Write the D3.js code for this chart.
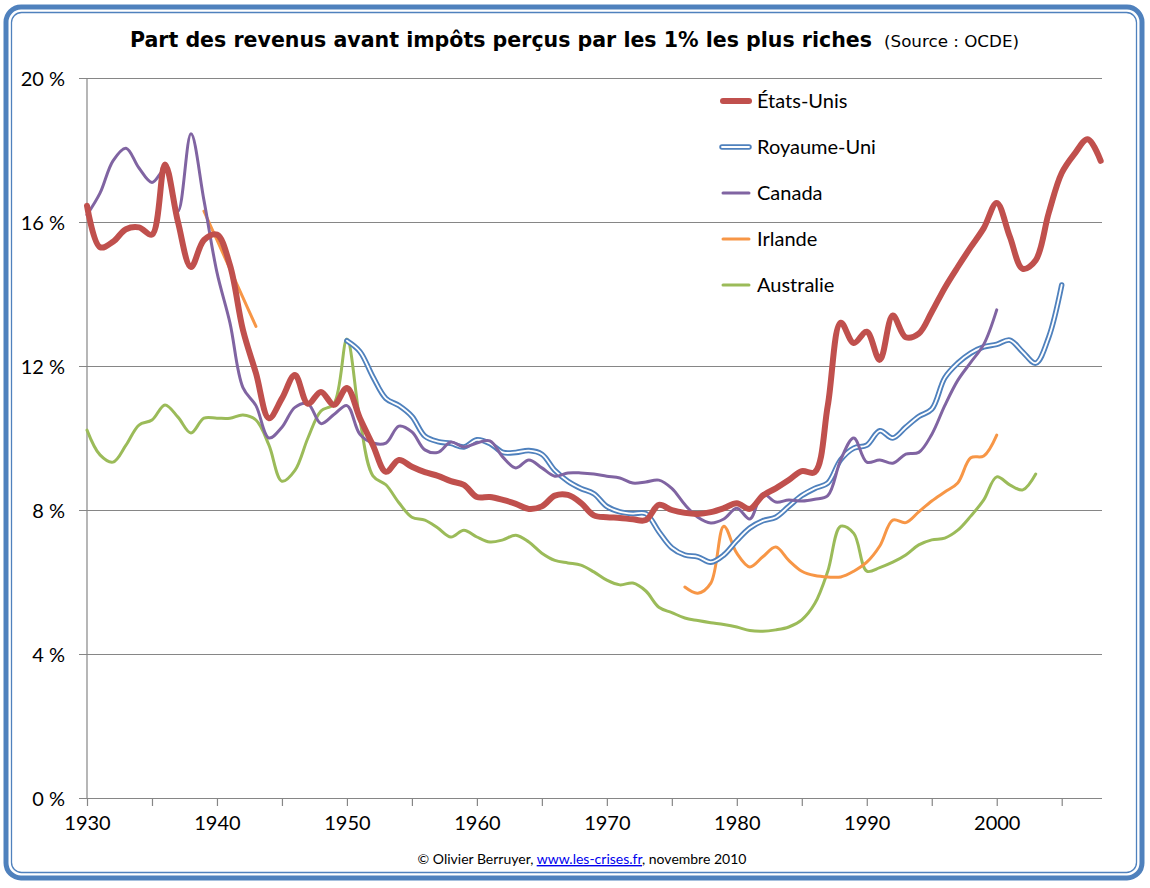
<!DOCTYPE html>
<html><head><meta charset="utf-8">
<script src="https://cdn.jsdelivr.net/npm/d3@7"></script>
<style>
html,body{margin:0;padding:0;background:#fff;}
svg{display:block;}
</style></head>
<body>
<svg id="chart" width="1150" height="888"></svg>
<script>
// ---------------- DATA ----------------
const yTicks = [0, 4, 8, 12, 16, 20];
const xLabelYears = [1930, 1940, 1950, 1960, 1970, 1980, 1990, 2000];
const xTickYears = d3.range(1930, 2006, 5);

const usYears = d3.range(1930, 2009);
const usValues = [16.45, 15.3, 15.45, 15.8, 15.85, 15.65, 17.6, 16.0, 14.75, 15.5,
  15.65, 14.8, 13.0, 11.8, 10.55, 11.1, 11.75, 10.95, 11.28, 10.92,
  11.39, 10.55, 9.8, 9.06, 9.39, 9.2, 9.05, 8.95, 8.8, 8.7,
  8.36, 8.36, 8.28, 8.17, 8.03, 8.1, 8.4, 8.42, 8.2, 7.85,
  7.8, 7.78, 7.74, 7.72, 8.14, 8.0, 7.92, 7.89, 7.94, 8.05,
  8.19, 8.03, 8.4, 8.6, 8.83, 9.08, 9.05, 10.9, 13.2, 12.64,
  12.95, 12.17, 13.4, 12.8, 12.9, 13.5, 14.17, 14.75, 15.3, 15.83,
  16.53, 15.6, 14.7, 14.94, 16.25, 17.36, 17.9, 18.3, 17.7];

const ukYears = d3.range(1950, 2006);
const ukValues = [12.7, 12.4, 11.7, 11.1, 10.9, 10.6, 10.05, 9.9, 9.85, 9.75,
  9.95, 9.85, 9.6, 9.6, 9.65, 9.55, 9.1, 8.8, 8.6, 8.45,
  8.1, 7.95, 7.9, 7.9, 7.4, 6.95, 6.75, 6.7, 6.55, 6.75,
  7.15, 7.5, 7.7, 7.8, 8.1, 8.4, 8.6, 8.75, 9.4, 9.72,
  9.8, 10.2, 10.0, 10.3, 10.6, 10.8, 11.67, 12.08, 12.36, 12.53,
  12.6, 12.72, 12.39, 12.08, 12.8, 14.25];

const caYears = d3.range(1930, 2001);
const caValues = [16.2, 16.8, 17.7, 18.05, 17.5, 17.1, 17.45, 16.3, 18.45, 16.6,
  14.6, 13.2, 11.4, 10.9, 10.0, 10.3, 10.85, 10.95, 10.4, 10.65,
  10.9, 10.1, 9.86, 9.86, 10.33, 10.17, 9.67, 9.6, 9.89, 9.75,
  9.86, 9.92, 9.47, 9.17, 9.39, 9.17, 8.94, 9.03, 9.03, 9.0,
  8.94, 8.89, 8.75, 8.78, 8.83, 8.6, 8.15, 7.8, 7.64, 7.75,
  8.05, 7.75, 8.45, 8.22, 8.28, 8.25, 8.3, 8.4, 9.4, 10.0,
  9.33, 9.39, 9.3, 9.55, 9.6, 10.1, 10.9, 11.6, 12.1, 12.6,
  13.56];

const ieYears1 = [1939, 1940, 1941, 1942, 1943];
const ieValues1 = [16.3, 15.5, 14.7, 13.9, 13.1];
const ieYears2 = d3.range(1976, 2001);
const ieValues2 = [5.86, 5.69, 5.97, 7.55, 6.8, 6.42, 6.7, 6.97, 6.6, 6.3,
  6.18, 6.14, 6.14, 6.3, 6.55, 7.0, 7.72, 7.65, 7.95, 8.25,
  8.5, 8.75, 9.45, 9.5, 10.08];

const auYears = d3.range(1930, 2004);
const auValues = [10.22, 9.53, 9.33, 9.8, 10.36, 10.5, 10.92, 10.58, 10.14, 10.55,
  10.55, 10.55, 10.64, 10.5, 9.8, 8.8, 9.1, 10.0, 10.75, 10.95,
  12.75, 10.5, 8.95, 8.7, 8.2, 7.8, 7.72, 7.5, 7.25, 7.44,
  7.25, 7.11, 7.17, 7.3, 7.11, 6.8, 6.6, 6.53, 6.47, 6.28,
  6.05, 5.92, 5.97, 5.75, 5.3, 5.15, 5.0, 4.93, 4.87, 4.82,
  4.75, 4.65, 4.63, 4.67, 4.75, 4.95, 5.4, 6.3, 7.55, 7.35,
  6.3, 6.4, 6.55, 6.75, 7.03, 7.17, 7.22, 7.44, 7.83, 8.28,
  8.92, 8.7, 8.56, 9.0];

const seriesNames = ["États-Unis", "Royaume-Uni", "Canada", "Irlande", "Australie"];
const seriesColors = ["#C0504D", "#4F81BD", "#8064A2", "#F79646", "#9BBB59"];

// ---------------- CHART ----------------
const svg = d3.select("#chart");
const x = d3.scaleLinear().domain([1930, 2008.1]).range([87, 1102]);
const y = d3.scaleLinear().domain([0, 20]).range([798, 78]);
const gridColor = "#868686";
const labelFont = "Lato, 'Open Sans', sans-serif";
const titleFont = "'Liberation Sans Narrow', 'DejaVu Sans Condensed', sans-serif";

// border
svg.append("rect").attr("x", 6).attr("y", 7).attr("width", 1136).attr("height", 871)
  .attr("rx", 15).attr("fill", "#fff").attr("stroke", "#4F81BD").attr("stroke-width", 5);
svg.append("rect").attr("x", 11.5).attr("y", 12.5).attr("width", 1125).attr("height", 860)
  .attr("rx", 10).attr("fill", "none").attr("stroke", "#4F81BD").attr("stroke-width", 1.3);

// title
svg.append("text").attr("x", 130).attr("y", 47)
  .attr("font-family", titleFont)
  .attr("font-weight", "bold").attr("font-size", 22).attr("fill", "#000")
  .attr("textLength", 742).attr("lengthAdjust", "spacingAndGlyphs")
  .text("Part des revenus avant impôts perçus par les 1% les plus riches");
svg.append("text").attr("x", 884).attr("y", 47)
  .attr("font-family", titleFont)
  .attr("font-size", 15).attr("fill", "#000")
  .attr("textLength", 135).attr("lengthAdjust", "spacingAndGlyphs")
  .text("(Source : OCDE)");

// y axis with gridlines
const yAxis = d3.axisLeft(y).tickValues(yTicks).tickSize(-(1102 - 87)).tickSizeOuter(0)
  .tickFormat(d => d + " %").tickPadding(22);
const gy = svg.append("g").attr("transform", "translate(87,0)").call(yAxis);
gy.select(".domain").remove();
gy.selectAll(".tick line").attr("stroke", gridColor).attr("stroke-width", 1.2).attr("x1", -8);
gy.selectAll(".tick text").attr("font-family", labelFont).attr("font-size", 20).attr("fill", "#000")
  .attr("dy", "0.36em");
svg.append("line").attr("x1", 87).attr("x2", 87).attr("y1", 78).attr("y2", 798)
  .attr("stroke", gridColor).attr("stroke-width", 1.2);

// x axis
const xAxis = d3.axisBottom(x).tickValues(xTickYears).tickSize(8).tickSizeOuter(0)
  .tickFormat(d => xLabelYears.includes(d) ? d : "").tickPadding(10);
const gx = svg.append("g").attr("transform", "translate(0,798)").call(xAxis);
gx.select(".domain").attr("stroke", gridColor).attr("stroke-width", 1.2).attr("d", "M79,0.5H1102");
gx.selectAll(".tick line").attr("stroke", gridColor).attr("stroke-width", 1.2);
gx.selectAll(".tick text").attr("font-family", labelFont).attr("font-size", 20).attr("fill", "#000");

// lines
const line = d3.line().x(d => x(d[0])).y(d => y(d[1])).curve(d3.curveCatmullRom.alpha(0.5));
const zip = (a, b) => a.map((v, i) => [v, b[i]]);
const plot = svg.append("g").attr("fill", "none").attr("stroke-linecap", "round").attr("stroke-linejoin", "round");

plot.append("path").attr("d", line(zip(auYears, auValues))).attr("stroke", seriesColors[4]).attr("stroke-width", 3);
plot.append("path").attr("d", line(zip(ieYears1, ieValues1))).attr("stroke", seriesColors[3]).attr("stroke-width", 3);
plot.append("path").attr("d", line(zip(ieYears2, ieValues2))).attr("stroke", seriesColors[3]).attr("stroke-width", 3);
const ukD = line(zip(ukYears, ukValues));
plot.append("path").attr("d", ukD).attr("stroke", seriesColors[1]).attr("stroke-width", 5.5);
plot.append("path").attr("d", ukD).attr("stroke", "#fff").attr("stroke-width", 1.8);
plot.append("path").attr("d", line(zip(caYears, caValues))).attr("stroke", seriesColors[2]).attr("stroke-width", 3);
plot.append("path").attr("d", line(zip(usYears, usValues))).attr("stroke", seriesColors[0]).attr("stroke-width", 6);

// legend
const legY = [101, 147, 193, 239, 285];
const leg = svg.append("g");
seriesNames.forEach((name, i) => {
  const g = leg.append("g").attr("transform", `translate(0,${legY[i]})`);
  if (i === 1) {
    g.append("line").attr("x1", 722).attr("x2", 749).attr("stroke", seriesColors[1]).attr("stroke-width", 5.5).attr("stroke-linecap", "round");
    g.append("line").attr("x1", 722).attr("x2", 749).attr("stroke", "#fff").attr("stroke-width", 1.8).attr("stroke-linecap", "round");
  } else {
    g.append("line").attr("x1", 723).attr("x2", 749).attr("stroke", seriesColors[i])
      .attr("stroke-width", i === 0 ? 6 : 3).attr("stroke-linecap", "round");
  }
  g.append("text").attr("x", 757).attr("y", 0).attr("dy", "0.36em")
    .attr("font-family", labelFont).attr("font-size", 20).attr("fill", "#000").text(name);
});

// footer
const foot = svg.append("text").attr("x", 582).attr("y", 864).attr("text-anchor", "middle")
  .attr("font-family", labelFont).attr("font-size", 14).attr("fill", "#000");
foot.append("tspan").text("© Olivier Berruyer, ");
foot.append("tspan").attr("fill", "#0000EE").attr("text-decoration", "underline").text("www.les-crises.fr");
foot.append("tspan").text(", novembre 2010");
</script>
</body></html>
